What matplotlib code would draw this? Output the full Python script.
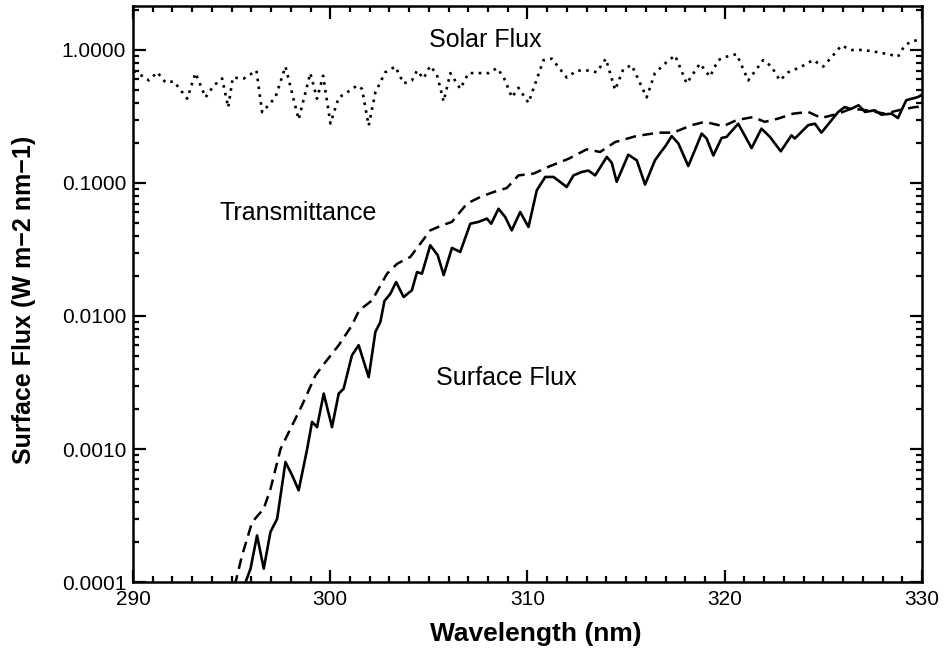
import numpy as np
import matplotlib
matplotlib.use("Agg")
import matplotlib.pyplot as plt
from matplotlib.ticker import LogLocator, FixedLocator, MultipleLocator

plt.rcParams['font.family'] = ['Liberation Sans', 'DejaVu Sans']

# solar flux (dotted)
solar_wl = [290.05, 290.81, 291.23, 291.65, 292.08, 292.75, 293.17, 293.68, 294.10, 294.52,
            294.83, 295.06, 295.62, 296.26, 296.55, 297.22, 297.73, 298.40, 298.99, 299.33,
            299.64, 300.01, 300.43, 300.77, 301.36, 301.61, 301.95, 302.29, 302.79, 303.30,
            303.72, 304.14, 304.40, 304.73, 305.07, 305.41, 305.75, 306.09, 306.59, 307.01,
            307.52, 308.03, 308.45, 308.78, 309.21, 309.54, 310.05, 310.81, 311.23, 311.99,
            312.50, 313.09, 313.51, 313.97, 314.44, 314.86, 315.28, 316.04, 316.46, 317.05,
            317.48, 318.07, 318.74, 319.25, 319.67, 320.09, 320.60, 321.19, 321.95, 322.37,
            322.79, 323.22, 323.89, 324.48, 324.99, 325.49, 325.91, 326.42, 327.01, 327.60,
            328.28, 328.78, 329.12, 329.46, 329.96]
solar_flux = [0.70, 0.59, 0.68, 0.57, 0.58, 0.43, 0.67, 0.44, 0.54, 0.61,
              0.37, 0.62, 0.61, 0.70, 0.34, 0.44, 0.75, 0.30, 0.67, 0.43,
              0.64, 0.28, 0.44, 0.47, 0.54, 0.51, 0.27, 0.48, 0.68, 0.75,
              0.56, 0.59, 0.70, 0.61, 0.76, 0.65, 0.41, 0.67, 0.51, 0.67,
              0.67, 0.67, 0.73, 0.63, 0.44, 0.52, 0.40, 0.84, 0.86, 0.62,
              0.70, 0.70, 0.68, 0.86, 0.50, 0.72, 0.77, 0.44, 0.67, 0.81,
              0.91, 0.56, 0.79, 0.63, 0.84, 0.89, 0.93, 0.59, 0.84, 0.75,
              0.59, 0.68, 0.75, 0.84, 0.75, 0.91, 1.08, 1.00, 1.00, 0.97,
              0.93, 0.89, 1.08, 1.16, 1.20]

# transmittance-weighted flux (dashed)
trans_wl = [295.0, 295.2, 295.53, 296.04, 296.63, 296.97, 297.48, 297.9, 298.57, 299.25,
            299.76, 300.43, 301.1, 301.46, 302.12, 302.88, 303.39, 304.06, 304.57, 305.07,
            305.66, 306.17, 306.93, 307.61, 308.28, 308.95, 309.54, 310.3, 311.15, 312.08,
            313.0, 313.68, 314.44, 315.5, 316.63, 317.39, 318.32, 318.99, 319.92, 320.6,
            321.44, 322.03, 322.71, 323.47, 324.23, 324.9, 325.75, 326.42, 327.18, 328.11,
            328.81, 329.63, 330.0]
trans_flux = [7e-5, 1.0e-4, 1.58e-4, 2.82e-4, 3.56e-4, 5.0e-4, 1.0e-3, 1.34e-3, 2.13e-3, 3.58e-3,
              4.51e-3, 6.03e-3, 8.5e-3, 0.011, 0.0131, 0.0208, 0.0247, 0.0278, 0.035, 0.044,
              0.048, 0.051, 0.070, 0.0785, 0.0855, 0.0916, 0.114, 0.1175, 0.134, 0.152,
              0.179, 0.171, 0.203, 0.225, 0.239, 0.239, 0.272, 0.288, 0.267, 0.297,
              0.313, 0.288, 0.305, 0.332, 0.342, 0.308, 0.332, 0.362, 0.352, 0.332,
              0.352, 0.372, 0.375]

# surface flux (solid)
surf_wl = [295.5, 295.71, 295.96, 296.29, 296.63, 296.97, 297.31, 297.73, 298.07, 298.4,
           298.83, 299.08, 299.33, 299.67, 300.09, 300.43, 300.68, 301.1, 301.44, 301.95,
           302.29, 302.54, 302.75, 303.05, 303.34, 303.72, 304.14, 304.4, 304.65, 305.07,
           305.45, 305.75, 306.17, 306.59, 307.1, 307.52, 307.94, 308.16, 308.53, 308.87,
           309.2, 309.63, 310.05, 310.47, 310.9, 311.32, 311.99, 312.33, 312.75, 313.09,
           313.43, 314.02, 314.27, 314.52, 315.11, 315.54, 315.96, 316.46, 316.75, 317.0,
           317.31, 317.65, 318.15, 318.83, 319.08, 319.42, 319.84, 320.09, 320.68, 321.36,
           321.86, 322.29, 322.84, 323.38, 323.55, 324.23, 324.57, 324.9, 325.75, 326.08,
           326.4, 326.78, 327.11, 327.6, 327.94, 328.45, 328.78, 329.2, 329.8, 330.1]
surf_flux = [7e-5, 1.0e-4, 1.26e-4, 2.24e-4, 1.26e-4, 2.38e-4, 2.99e-4, 7.98e-4, 6.34e-4, 4.89e-4,
             1.0e-3, 1.6e-3, 1.46e-3, 2.61e-3, 1.46e-3, 2.61e-3, 2.84e-3, 5.06e-3, 6.03e-3, 3.47e-3,
             7.6e-3, 9.0e-3, 0.013, 0.0147, 0.018, 0.0139, 0.0156, 0.0214, 0.0208, 0.034,
             0.0286, 0.0203, 0.0325, 0.0303, 0.0494, 0.051, 0.054, 0.0494, 0.064, 0.0555,
             0.044, 0.0605, 0.0467, 0.088, 0.111, 0.111, 0.0933, 0.114, 0.121, 0.124,
             0.114, 0.157, 0.142, 0.102, 0.163, 0.148, 0.0973, 0.148, 0.17, 0.19,
             0.225, 0.198, 0.134, 0.235, 0.216, 0.161, 0.218, 0.222, 0.279, 0.183,
             0.256, 0.222, 0.173, 0.228, 0.216, 0.272, 0.279, 0.239, 0.342, 0.372,
             0.36, 0.384, 0.342, 0.352, 0.326, 0.332, 0.308, 0.419, 0.443, 0.47]

ytick_vals = [0.0001, 0.001, 0.01, 0.1, 1.0]
ytick_labels = ["0.0001", "0.0010", "0.0100", "0.1000", "1.0000"]

fig = plt.figure(figsize=(9.45, 6.53), dpi=100)
ax = fig.add_axes([0.1407, 0.1087, 0.835, 0.8821])

ax.plot(solar_wl, solar_flux, color='black', lw=1.9, linestyle=(0, (1, 2.0)))
ax.plot(trans_wl, trans_flux, color='black', lw=1.8, linestyle=(0, (4.3, 2.6)))
ax.plot(surf_wl, surf_flux, color='black', lw=1.9, solid_joinstyle='round')

ax.set_yscale('log')
ax.set_xlim(290, 330)
ax.set_ylim(0.0001, 2.14)

ax.xaxis.set_major_locator(MultipleLocator(10))
ax.xaxis.set_minor_locator(MultipleLocator(1))
ax.yaxis.set_major_locator(FixedLocator(ytick_vals))
ax.set_yticklabels(ytick_labels)
ax.yaxis.set_minor_locator(LogLocator(base=10, subs=np.arange(2, 10)))

ax.tick_params(which='both', direction='in', top=True, right=True, width=1.6, labelsize=15)
ax.tick_params(which='major', length=9, pad=6)
ax.tick_params(which='minor', length=4.5)
ax.tick_params(axis='y', which='major', pad=5)
for s in ax.spines.values():
    s.set_linewidth(1.8)

ax.set_xlabel("Wavelength (nm)", fontsize=19, fontweight='bold')
ax.xaxis.set_label_coords(0.51, -0.069)
ax.set_ylabel("Surface Flux (W m\u22122 nm\u22121)", fontsize=18, fontweight='bold')
ax.yaxis.set_label_coords(-0.123, 0.49)

ax.text(0.446, 0.941, "Solar Flux", transform=ax.transAxes, ha='center', va='center', fontsize=18)
ax.text(0.210, 0.641, "Transmittance", transform=ax.transAxes, ha='center', va='center', fontsize=18)
ax.text(0.473, 0.354, "Surface Flux", transform=ax.transAxes, ha='center', va='center', fontsize=18)

fig.savefig("out.png", dpi=100)
